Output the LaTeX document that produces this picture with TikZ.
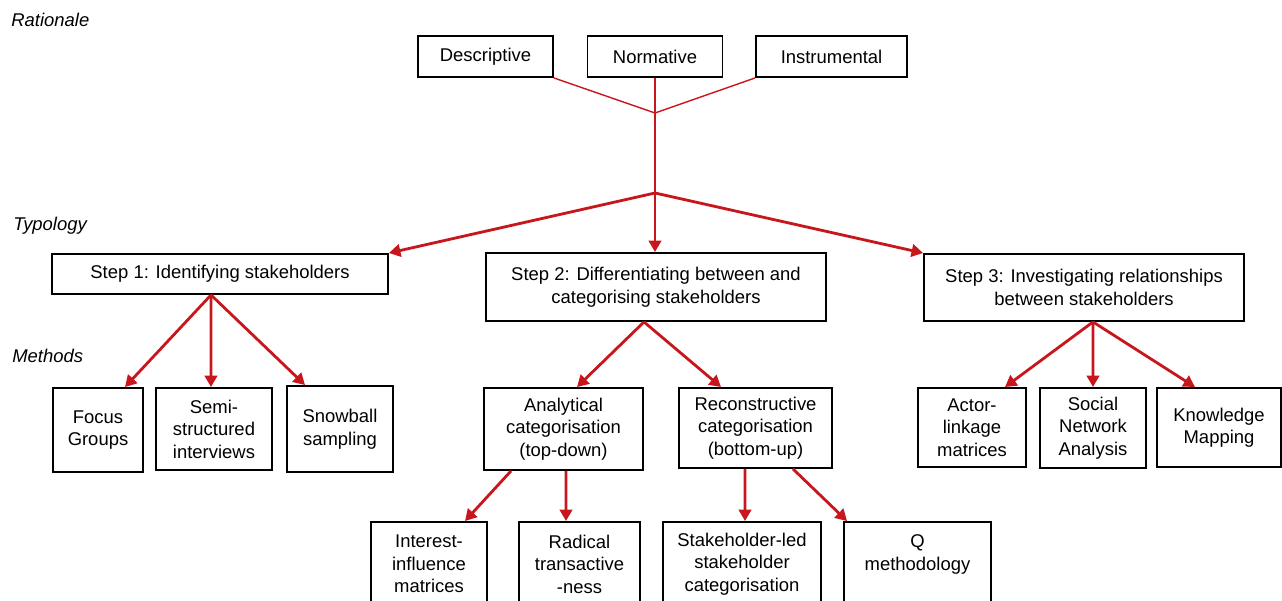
\documentclass[tikz,border=0pt]{standalone}
\usepackage{fontspec}
\setmainfont{Liberation Sans}
\usetikzlibrary{arrows.meta, positioning}
\definecolor{arrowred}{HTML}{C8161D}
\tikzstyle{box} = [rectangle, draw=black, line width=1.1pt, align=center, inner sep=0pt, font=\fontsize{10.5}{12.8}\selectfont]
\tikzstyle{arrow} = [draw=arrowred, line width=1.6pt, -{Triangle[length=2.3mm,width=2.5mm]}]
\tikzstyle{link} = [draw=arrowred, line width=1.6pt]
\tikzstyle{thinlink} = [draw=arrowred, line width=0.8pt]
\tikzstyle{level} = [anchor=base west, inner sep=0pt, font=\fontsize{10.5}{12}\selectfont\itshape]

\begin{document}
\begin{tikzpicture}[x=0.02cm, y=-0.02cm]
\useasboundingbox (0,0) rectangle (1282,601);
\clip (0,0) rectangle (1282,601);
% Levels
\node (rationale) [level] at (11,27) {Rationale};
\node (typology) [level] at (13,231) {Typology};
\node (methods) [level] at (12,362) {Methods};
% Row 1
\node (desc) [box, minimum width=2.7cm, minimum height=0.82cm] at (485.5,56.5) {Descriptive};
\node (norm) [box, minimum width=2.7cm, minimum height=0.82cm] at (655,56.5) {Normative};
\node (instr) [box, minimum width=3.02cm, minimum height=0.82cm] at (831.5,56.5) {Instrumental};
\coordinate (j1) at (655,113);
\coordinate (j2) at (655,193);
% Row 2
\node (step1) [box, minimum width=6.72cm, minimum height=0.8cm] at (220,274) {Step 1: Identifying stakeholders};
\node (step2) [box, minimum width=6.8cm, minimum height=1.36cm] at (656,287) {Step 2: Differentiating between and\\categorising stakeholders};
\node (step3) [box, minimum width=6.4cm, minimum height=1.34cm] at (1084,287.5) {Step 3: Investigating relationships\\between stakeholders};
% Row 3
\node (focus) [box, minimum width=1.8cm, minimum height=1.68cm] at (98,430) {Focus\\Groups};
\node (semi) [box, minimum width=2.32cm, minimum height=1.64cm] at (214,429) {Semi-\\structured\\interviews};
\node (snow) [box, minimum width=2.12cm, minimum height=1.72cm] at (340,429) {Snowball\\sampling};
\node (analyt) [box, minimum width=3.18cm, minimum height=1.64cm] at (563.5,429) {Analytical\\categorisation\\(top-down)};
\node (recon) [box, minimum width=3.06cm, minimum height=1.6cm] at (755.5,428) {Reconstructive\\categorisation\\(bottom-up)};
\node (actor) [box, minimum width=2.16cm, minimum height=1.58cm] at (972,427.5) {Actor-\\linkage\\matrices};
\node (social) [box, minimum width=2.12cm, minimum height=1.6cm] at (1093,428) {Social\\Network\\Analysis};
\node (know) [box, minimum width=2.48cm, minimum height=1.58cm] at (1219,427.5) {Knowledge\\Mapping};
% Row 4
\node (inter) [box, minimum width=2.32cm, minimum height=1.68cm] at (429,564) {Interest-\\influence\\matrices};
\node (radical) [box, minimum width=2.42cm, minimum height=1.68cm] at (579.5,564) {Radical\\transactive\\-ness};
\node (stake) [box, minimum width=3.16cm, minimum height=1.68cm] at (742,564) {Stakeholder-led\\stakeholder\\categorisation};
\node (qmeth) [box, minimum width=2.94cm, minimum height=1.68cm] at (917.5,564) {Q\\methodology\\ };

% Arrows
\draw [thinlink] (desc.south east) -- (j1);
\draw [thinlink] (instr.south west) -- (j1);
\draw [link] (norm.south) -- (j2);
\draw [arrow] (j2) -- (step1.north east);
\draw [arrow] (j2) -- ([xshift=-0.02cm]step2.north);
\draw [arrow] (j2) -- (step3.north west);
\draw [arrow] ([xshift=-0.18cm]step1.south) -- ([xshift=0.54cm]focus.north);
\draw [arrow] ([xshift=-0.18cm]step1.south) -- ([xshift=-0.06cm]semi.north);
\draw [arrow] ([xshift=-0.18cm]step1.south) -- ([xshift=-0.7cm]snow.north);
\draw [arrow] ([xshift=-0.24cm]step2.south) -- ([xshift=0.27cm]analyt.north);
\draw [arrow] ([xshift=-0.24cm]step2.south) -- ([xshift=-0.69cm]recon.north);
\draw [arrow] ([xshift=0.18cm]step3.south) -- ([xshift=0.66cm]actor.north);
\draw [arrow] ([xshift=0.18cm]step3.south) -- (social.north);
\draw [arrow] ([xshift=0.18cm]step3.south) -- ([xshift=-0.48cm]know.north);
\draw [arrow] ([xshift=-1.05cm]analyt.south) -- ([xshift=0.72cm]inter.north);
\draw [arrow] ([xshift=0.05cm]analyt.south) -- ([xshift=-0.27cm]radical.north);
\draw [arrow] ([xshift=-0.21cm]recon.south) -- ([xshift=0.06cm]stake.north);
\draw [arrow] ([xshift=0.75cm]recon.south) -- ([xshift=0.08cm]qmeth.north west);
\end{tikzpicture}
\end{document}
